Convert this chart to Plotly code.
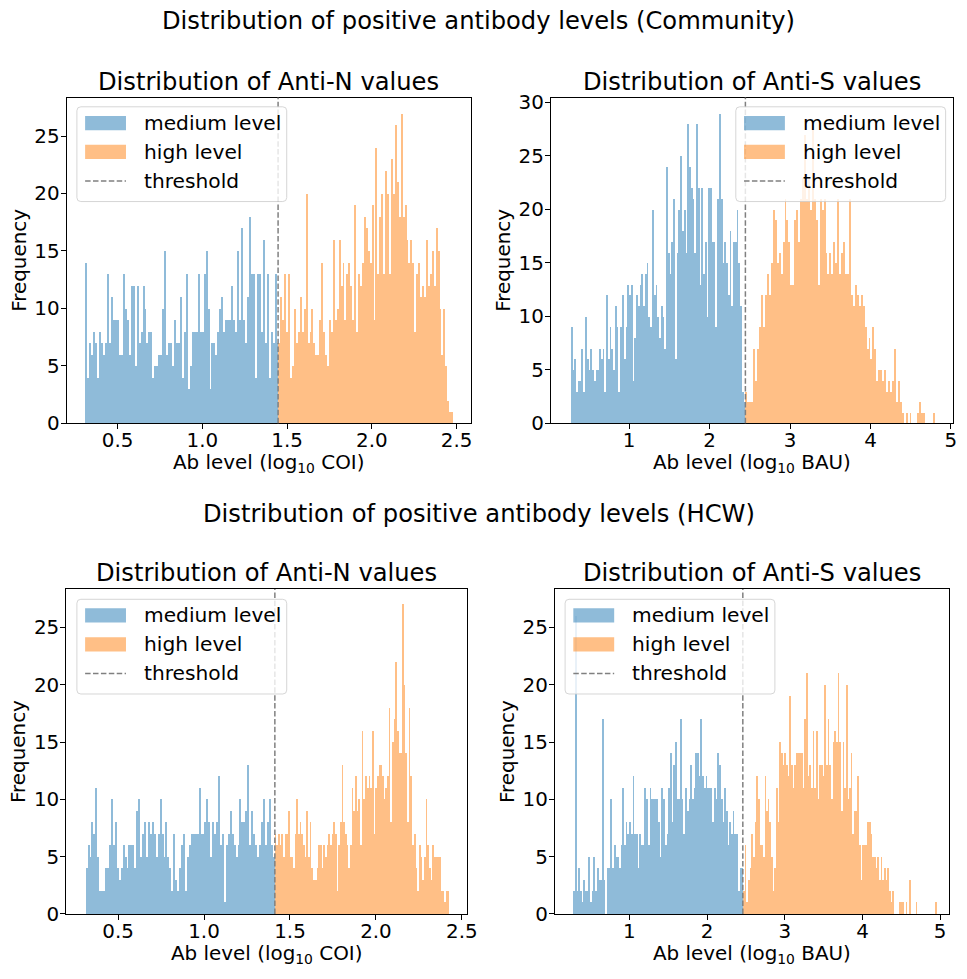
import numpy as np
import plotly.graph_objects as go

W, H = 967, 979
FONT = "DejaVu Sans"

# ---------------- text ----------------
suptitles = ["Distribution of positive antibody levels (Community)",
             "Distribution of positive antibody levels (HCW)"]
panel_titles = ["Distribution of Anti-N values", "Distribution of Anti-S values",
                "Distribution of Anti-N values", "Distribution of Anti-S values"]
x_labels = ["Ab level (log<sub>10</sub> COI)", "Ab level (log<sub>10</sub> BAU)",
            "Ab level (log<sub>10</sub> COI)", "Ab level (log<sub>10</sub> BAU)"]
y_label = "Frequency"
series_names = ["medium level", "high level", "threshold"]

# ---------------- data (histogram counts per bin) ----------------
comm_n_medium = [14,4,7,6,8,7,4,8,7,6, 7,13,7,11,9,9,9,6,6,13, 10,9,6,12,12,5,12,7,8,12,
                 10,7,8,8,4,5,5,6,6,10, 15,6,7,7,5,9,7,7,11,4, 8,13,3,5,8,8,8,13,8,8,
                 13,15,10,3,7,7,6,8,10,11, 8,9,9,9,12,9,8,15,9,17, 9,7,11,18,13,13,4,13,13,8,
                 16,7,13,4,8,7,13,7]
comm_n_high = [7,11,9,13,8,13,4,5,10,7, 8,11,8,10,20,7,8,10,7,6, 6,9,14,8,6,5,9,8,16,9,
               10,16,12,14,9,13,14,12,9,19, 8,13,12,14,18,17,15,14,19,9, 24,13,18,20,13,22,20,13,23,20,
               26,21,18,27,18,19,16,14,16,14, 8,13,14,11,12,11,16,12,13,15, 12,17,15,10,6,10,5,2,1,1]
comm_s_medium = [9,5,6,3,4,4,7,3,10,6, 5,7,5,4,5,5,7,6,7,3, 12,6,9,7,5,11,9,3,9,12,
                 6,9,13,12,13,4,8,12,11,13, 14,11,14,15,10,9,20,12,13,10, 8,11,10,7,24,16,14,17,21,6,
                 16,20,25,18,20,16,28,24,22,21, 16,28,22,13,22,14,17,10,22,22, 17,17,9,21,29,21,15,17,15,12,
                 18,11,17,17,20,15,11,3,2]
comm_s_high = [3,2,2,2,7,4,7,9,12,9, 12,14,12,15,20,19,15,16,14,17, 21,19,17,13,13,19,20,17,21,23,
               27,21,23,20,28,21,19,13,21,20, 21,16,14,16,14,17,15,21,14,16, 17,14,14,21,12,11,13,12,11,12,
               11,9,7,8,6,9,7,4,5,5, 4,5,3,4,3,4,7,2,4,2, 1,0,1,0,1,0,0,0,1,2, 1,1,0,0,0,0,1]
hcw_n_medium = [4,6,5,8,7,11,5,2,2,2, 4,4,6,10,6,8,4,3,4,6, 5,4,6,6,6,4,9,10,5,7,
                8,5,8,7,8,7,5,7,10,7, 5,8,5,4,2,7,3,2,4,6, 7,2,5,6,7,7,7,7,11,7,
                7,8,10,8,5,8,7,8,12,6, 7,1,6,7,9,7,6,5,6,10, 8,8,9,13,6,9,7,6,5,6,
                8,10,6,8,10,6,5]
hcw_n_high = [7,6,7,6,7,5,7,7,9,5, 5,4,7,10,7,8,7,6,5,9, 5,8,4,3,3,4,6,6,4,6,
              5,6,7,6,7,8,7,2,6,8, 13,8,7,6,4,6,11,9,12,9, 10,6,16,10,12,11,12,11,16,7,
              11,12,13,13,12,10,11,12,18,8, 15,17,22,16,14,14,27,20,14,8, 18,12,6,7,4,2,6,5,3,5,
              10,6,4,3,6,5,5,5,5,2, 2,1,2,2]
hcw_s_medium = [2,26,2,4,2,1,3,2,2,5, 1,2,5,2,4,3,3,17,3,0, 4,4,10,4,6,5,5,4,6,11,
                6,8,7,8,7,12,7,7,4,7, 6,6,11,10,6,11,10,10,10,10, 8,5,11,10,6,7,11,14,8,13,
                15,10,10,17,10,7,11,9,10,13, 10,11,14,14,12,17,12,11,12,11, 11,11,8,11,10,14,13,10,8,11,
                9,6,8,7,9,7,7,2,4,4]
hcw_s_high = [2,6,1,3,4,7,5,8,12,10, 6,6,5,12,9,10,8,5,2,4, 11,8,15,14,13,14,13,12,19,13,
              11,13,14,14,14,14,11,17,21,12, 13,11,16,11,16,10,13,13,12,20, 13,17,13,10,15,16,15,21,15,9,
              15,11,20,10,11,14,7,9,9,12, 6,3,6,6,6,8,8,7,5,5, 4,5,3,5,3,4,3,4,2,1,
              2,0,0,0,1,1,1,0,1,0, 3,0,0,0,1,0,0,0,0,0, 0,0,0,0,0,0,1]

# bin limits: [start of medium, threshold, end of high]
comm_n_limits = [0.308, 1.447, 2.477]
comm_s_limits = [0.275, 2.445, 4.80]
hcw_n_limits = [0.313, 1.412, 2.427]
hcw_s_limits = [0.274, 2.46, 4.96]

x_ticks_coi = [0.5, 1.0, 1.5, 2.0, 2.5]
x_ticks_bau = [1, 2, 3, 4, 5]
y_ticks_25 = [0, 5, 10, 15, 20, 25]
y_ticks_30 = [0, 5, 10, 15, 20, 25, 30]

panels = [
    (comm_n_medium, comm_n_high, comm_n_limits, x_ticks_coi, y_ticks_25),
    (comm_s_medium, comm_s_high, comm_s_limits, x_ticks_bau, y_ticks_30),
    (hcw_n_medium, hcw_n_high, hcw_n_limits, x_ticks_coi, y_ticks_25),
    (hcw_s_medium, hcw_s_high, hcw_s_limits, x_ticks_bau, y_ticks_25),
]

# ---------------- layout geometry (pixels) ----------------
axes_px = [(67.3, 476, 93.3, 425), (556.7, 963, 93.3, 425),
           (67, 472.3, 594, 925), (560.7, 959, 594, 925)]
x_ranges = [(0.1995, 2.5855), (0.028, 5.026), (0.199, 2.532), (0.041, 5.115)]
y_tops = [28.35, 30.45, 28.35, 28.35]
legend_px = [(77.7, 102.7), (743.5, 102.7), (77.7, 604.4), (571.0, 604.4)]

BLUE = "rgba(31,119,180,0.5)"
ORANGE = "rgba(255,127,14,0.5)"
GRAY = "rgb(128,128,128)"
DASH = "5.5px,2.4px"
TICK_SIZE = 19.9
LABEL_SIZE = 19.9
LEGEND_SIZE = 20.2
TITLE_SIZE = 24.2

def px(x):
    return x / W

def py(y):
    return 1 - y / H

fig = go.Figure()
shapes = []
annotations = []
layout = {}

for i, (med, high, lim, xt, yt) in enumerate(panels):
    n = i + 1
    xa = "x" if n == 1 else f"x{n}"
    ya = "y" if n == 1 else f"y{n}"
    for vals, lo, hi, col, name in [(med, lim[0], lim[1], BLUE, series_names[0]),
                                    (high, lim[1], lim[2], ORANGE, series_names[1])]:
        edges = np.linspace(lo, hi, len(vals) + 1)
        centers = (edges[:-1] + edges[1:]) / 2
        widths = np.diff(edges)
        fig.add_trace(go.Bar(x=centers, y=vals, width=widths, name=name,
                             marker=dict(color=col, line=dict(width=0)),
                             xaxis=xa, yaxis=ya, showlegend=False, hoverinfo="skip"))
    l, r, t, b = axes_px[i]
    common = dict(showline=True, mirror=True, linecolor="black", linewidth=1.1,
                  ticks="outside", ticklen=5, tickwidth=1.1, tickcolor="black",
                  showgrid=False, zeroline=False,
                  tickfont=dict(family=FONT, size=TICK_SIZE, color="black"))
    layout["xaxis" if n == 1 else f"xaxis{n}"] = dict(
        domain=[px(l), px(r)], anchor=ya, range=list(x_ranges[i]), ticklabelstandoff=-6,
        tickvals=xt, ticktext=[(f"{v:.1f}" if xt is x_ticks_coi else f"{v:d}") for v in xt],
        **common)
    layout["yaxis" if n == 1 else f"yaxis{n}"] = dict(
        domain=[py(b), py(t)], anchor=xa, range=[0, y_tops[i]], tickvals=yt, ticklabelstandoff=-3,
        title=dict(text=y_label, standoff=2, font=dict(family=FONT, size=LABEL_SIZE, color="black")),
        **common)

    # x-axis label
    annotations.append(dict(text=x_labels[i], x=px((l + r) / 2), y=py(b + 41),
                            xref="paper", yref="paper", showarrow=False,
                            xanchor="center", yanchor="middle",
                            font=dict(family=FONT, size=LABEL_SIZE, color="black")))

    # threshold line
    shapes.append(dict(type="line", xref=xa, yref=f"{ya} domain", x0=lim[1], x1=lim[1],
                       y0=0, y1=1, line=dict(color=GRAY, width=1.5, dash=DASH), layer="above"))

    # panel title
    annotations.append(dict(text=panel_titles[i], x=px((l + r) / 2), y=py(t - 16),
                            xref="paper", yref="paper", showarrow=False,
                            xanchor="center", yanchor="middle",
                            font=dict(family=FONT, size=TITLE_SIZE, color="black")))

# legends (drawn manually in matplotlib style)
for i, (bl, bt) in enumerate(legend_px):
    bw, bh, rad = 212, 96.5, 4
    x0, x1 = px(bl), px(bl + bw)
    y0, y1 = py(bt), py(bt + bh)
    rx, ry = rad / W, rad / H
    path = (f"M {x0+rx},{y0} L {x1-rx},{y0} Q {x1},{y0} {x1},{y0-ry} "
            f"L {x1},{y1+ry} Q {x1},{y1} {x1-rx},{y1} L {x0+rx},{y1} Q {x0},{y1} {x0},{y1+ry} "
            f"L {x0},{y0-ry} Q {x0},{y0} {x0+rx},{y0} Z")
    shapes.append(dict(type="path", path=path, xref="paper", yref="paper",
                       fillcolor="rgba(255,255,255,0.8)", line=dict(color="rgba(204,204,204,0.8)", width=1),
                       layer="above"))
    rows = [bt + 16.5, bt + 46, bt + 75.5]
    hl = bl + 8.3
    for rcy, col in [(rows[0], BLUE), (rows[1], ORANGE)]:
        shapes.append(dict(type="rect", xref="paper", yref="paper",
                           x0=px(hl), x1=px(hl + 41.3), y0=py(rcy - 7.25), y1=py(rcy + 7.25),
                           fillcolor=col, line=dict(width=0), layer="above"))
    shapes.append(dict(type="line", xref="paper", yref="paper", x0=px(hl), x1=px(hl + 41.3),
                       y0=py(rows[2]), y1=py(rows[2]),
                       line=dict(color=GRAY, width=1.5, dash=DASH), layer="above"))
    for rcy, txt in zip(rows, series_names):
        annotations.append(dict(text=txt, x=px(bl + 65.6), y=py(rcy), xref="paper", yref="paper",
                                showarrow=False, xanchor="left", yanchor="middle",
                                font=dict(family=FONT, size=LEGEND_SIZE, color="black")))

# suptitles
for txt, yc in zip(suptitles, [15, 518]):
    annotations.append(dict(text=txt, x=px(484), y=py(yc), xref="paper", yref="paper",
                            showarrow=False, xanchor="center", yanchor="middle",
                            font=dict(family=FONT, size=TITLE_SIZE, color="black")))

fig.update_layout(width=W, height=H, margin=dict(l=0, r=0, t=0, b=0),
                  paper_bgcolor="white", plot_bgcolor="white",
                  bargap=0, barmode="overlay", showlegend=False,
                  shapes=shapes, annotations=annotations,
                  font=dict(family=FONT, color="black"), **layout)

# remove the default page margin so the figure sits at the window's top-left corner
post = (
    "document.documentElement.style.margin='0';"
    "document.documentElement.style.overflow='hidden';"
    "document.body.style.margin='0';"
    "document.body.style.overflow='hidden';"
)

fig.write_html("out.html", config={"displayModeBar": False}, post_script=post)
